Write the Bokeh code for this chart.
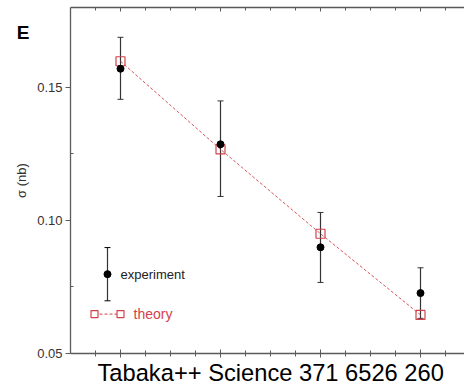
from bokeh.plotting import figure
from bokeh.models import (LinearAxis, FixedTicker, Whisker, ColumnDataSource,
                          Label, Title, PrintfTickFormatter,
                          CustomJSTickFormatter)
from bokeh.embed import file_html
from bokeh.resources import INLINE

# Measured cross sections (nb) with uncertainties, and theory prediction
points = [1, 2, 3, 4]
sigma_exp = [0.157, 0.1286, 0.0899, 0.0727]
sigma_err_lo = [0.0115, 0.0196, 0.0132, 0.0095]
sigma_err_hi = [0.0118, 0.0163, 0.0131, 0.0095]
sigma_theory = [0.1598, 0.1267, 0.0950, 0.0645]

y_ticks = [0.05, 0.10, 0.15]
y_minor = [0.075, 0.125]

FONT = "Liberation Sans"
RED = "#d2424a"
AXIS = "#5a5a5a"

src = ColumnDataSource(dict(
    x=points,
    y=sigma_exp,
    lower=[v - e for v, e in zip(sigma_exp, sigma_err_lo)],
    upper=[v + e for v, e in zip(sigma_exp, sigma_err_hi)],
    theory=sigma_theory,
))

p = figure(width=464, height=387, x_range=(0.5, 4.44), y_range=(0.05, 0.18),
           output_backend="svg", toolbar_location=None,
           min_border_left=70, min_border_right=0, min_border_top=7,
           min_border_bottom=34, x_axis_location=None, y_axis_location=None)
p.outline_line_color = None
p.grid.visible = False
p.background_fill_color = "white"
p.border_fill_color = "white"

# Left axis with labels
yax = LinearAxis(ticker=FixedTicker(ticks=y_ticks, minor_ticks=y_minor),
                 formatter=PrintfTickFormatter(format="%.2f"))
yax.axis_line_color = AXIS
yax.axis_line_width = 1.3
yax.major_tick_line_color = AXIS
yax.minor_tick_line_color = AXIS
yax.major_tick_in = 0
yax.major_tick_out = 5
yax.minor_tick_in = 3
yax.minor_tick_out = 0
yax.major_label_text_font = FONT
yax.major_label_text_font_size = "13px"
yax.major_label_text_color = "#333333"
yax.major_label_standoff = 3
yax.axis_label = "σ (nb)"
yax.axis_label_text_font = FONT
yax.axis_label_text_font_size = "13px"
yax.axis_label_text_font_style = "normal"
yax.axis_label_text_color = "#333333"
yax.axis_label_standoff = 5
p.add_layout(yax, "left")

# Panel letter, carried by a bare outer axis on the left
letter_y = 0.1706
eax = LinearAxis(ticker=FixedTicker(ticks=[letter_y], minor_ticks=[]),
                 formatter=CustomJSTickFormatter(code="return 'E'"))
eax.axis_line_color = None
eax.major_tick_line_color = None
eax.minor_tick_line_color = None
eax.major_tick_in = 0
eax.major_tick_out = 0
eax.major_label_standoff = -18
eax.major_label_text_font = FONT
eax.major_label_text_font_size = "19px"
eax.major_label_text_font_style = "bold"
eax.major_label_text_color = "black"
p.add_layout(eax, "left")

x_ticker = FixedTicker(ticks=points,
                       minor_ticks=[0.75, 1.25, 1.5, 1.75, 2.25, 2.5, 2.75,
                                    3.25, 3.5, 3.75, 4.25])
blank = {t: "" for t in points}

# Bottom axis: ticks only
xax = LinearAxis(ticker=x_ticker, major_label_overrides=blank)
xax.axis_line_color = AXIS
xax.axis_line_width = 1.3
xax.major_tick_line_color = AXIS
xax.minor_tick_line_color = AXIS
xax.major_tick_in = 4
xax.major_tick_out = 4
xax.minor_tick_in = 3
xax.minor_tick_out = 3
xax.major_label_standoff = 0
p.add_layout(xax, "below")

# Top axis: inward ticks only
tax = LinearAxis(ticker=x_ticker, major_label_overrides=blank)
tax.axis_line_color = AXIS
tax.axis_line_width = 1.3
tax.major_tick_line_color = AXIS
tax.minor_tick_line_color = AXIS
tax.major_tick_in = 4
tax.major_tick_out = 0
tax.minor_tick_in = 3
tax.minor_tick_out = 0
tax.major_label_standoff = 0
p.add_layout(tax, "above")

# Theory curve
p.line("x", "theory", source=src, line_color=RED, line_width=1,
       line_dash="3 2", line_alpha=0.9)
p.scatter("x", "theory", source=src, marker="square", size=9,
          fill_color=None, line_color=RED, line_width=1.2)

# Experiment with error bars
err = Whisker(base="x", lower="lower", upper="upper", source=src,
              line_color="#333333", line_width=1.2)
err.upper_head.size = 6
err.lower_head.size = 6
err.upper_head.line_color = "#333333"
err.lower_head.line_color = "#333333"
p.add_layout(err)
p.scatter("x", "y", source=src, marker="circle", size=7,
          fill_color="black", line_color="black")

# Legend, drawn in the lower-left corner
leg_x = 0.87
leg_exp_y = 0.0798
leg_exp_err = 0.0100
leg_th_y = 0.0648
leg_th_x = [0.74, 1.0]
leg_src = ColumnDataSource(dict(x=[leg_x], y=[leg_exp_y],
                                lower=[leg_exp_y - leg_exp_err],
                                upper=[leg_exp_y + leg_exp_err]))
leg_err = Whisker(base="x", lower="lower", upper="upper", source=leg_src,
                  line_color="#333333", line_width=1.2)
leg_err.upper_head.size = 6
leg_err.lower_head.size = 6
p.add_layout(leg_err)
p.scatter("x", "y", source=leg_src, marker="circle", size=7,
          fill_color="black", line_color="black")
p.line(leg_th_x, [leg_th_y, leg_th_y], line_color=RED, line_width=1,
       line_dash="3 2")
p.scatter(leg_th_x, [leg_th_y, leg_th_y], marker="square", size=7,
          fill_color="white", line_color=RED, line_width=1.2)
p.add_layout(Label(x=1.0, y=leg_exp_y, text="experiment",
                   text_font=FONT, text_font_size="13px",
                   text_color="#222222", text_baseline="middle"))
p.add_layout(Label(x=1.13, y=leg_th_y, text="theory",
                   text_font=FONT, text_font_size="14px",
                   text_color=RED, text_baseline="middle"))

# Citation below the plot
cite = Title(text="Tabaka++ Science 371 6526 260", align="left", offset=27,
             text_font=FONT, text_font_size="23.7px",
             text_font_style="normal", text_color="black", standoff=0)
p.add_layout(cite, "below")

open("out.html", "w").write(file_html(p, INLINE))
